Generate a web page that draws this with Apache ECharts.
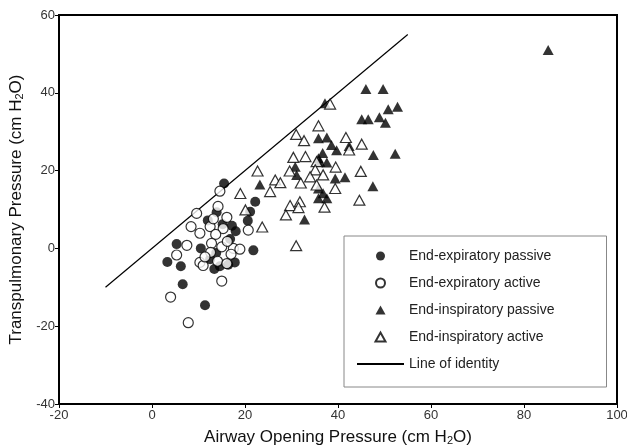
<!DOCTYPE html>
<html>
<head>
<meta charset="utf-8">
<title>Transpulmonary vs Airway Opening Pressure</title>
<script src="https://cdn.jsdelivr.net/npm/echarts@6/dist/echarts.min.js"></script>
<style>
  html, body { margin: 0; padding: 0; background: #fff; }
  #chart { width: 627px; height: 447px; }
</style>
</head>
<body>
<div id="chart"></div>
<script>
// [airway opening pressure, transpulmonary pressure] in cm H2O
const expPassive = [
  [15.5, 16.7], [13.9, 9.3], [18.0, 4.4], [21.8, -0.5], [10.5, 0.0], [12.5, -2.8],
  [13.4, -5.3], [16.4, -4.2], [17.8, -3.6], [5.3, 1.1], [3.3, -3.5], [6.2, -4.6],
  [6.6, -9.2], [11.4, -14.6], [20.6, 7.1], [22.2, 12.0], [21.1, 9.4], [15.2, 6.2],
  [16.8, 2.4], [13.8, -1.2], [12.0, 7.2], [17.2, 5.8], [14.6, -4.6]
];
const expActive = [
  [14.6, 14.7], [9.6, 9.0], [16.1, 8.0], [8.4, 5.6], [12.5, 5.6], [10.3, 3.9],
  [15.3, 5.1], [13.7, 3.6], [12.8, 1.3], [15.0, 0.4], [17.5, 0.0], [18.9, -0.2],
  [7.5, 0.8], [5.3, -1.7], [10.3, -3.6], [11.0, -4.4], [14.1, -3.3], [16.1, -3.9],
  [15.0, -8.4], [4.0, -12.5], [7.8, -19.1], [20.7, 4.7], [12.6, -1.0], [11.4, -2.2],
  [16.2, 1.8], [14.2, 10.8], [13.2, 7.6], [17.0, -1.5]
];
const inspPassive = [
  [46.0, 41.0], [49.7, 41.0], [37.2, 37.3], [50.8, 35.8], [52.8, 36.4], [45.1, 33.2],
  [46.5, 33.2], [48.9, 33.7], [50.2, 32.3], [35.8, 28.3], [37.6, 28.5], [38.6, 26.6],
  [39.7, 25.2], [42.4, 26.3], [47.6, 24.0], [52.3, 24.3], [36.7, 24.5], [35.8, 23.2],
  [36.1, 22.3], [37.6, 22.1], [30.8, 21.0], [31.1, 18.9], [39.4, 18.0], [41.5, 18.3],
  [23.2, 16.4], [35.8, 15.4], [36.8, 14.2], [35.8, 12.9], [37.6, 12.9], [47.5, 16.0],
  [32.8, 7.4], [85.2, 51.0]
];
const inspActive = [
  [38.3, 37.1], [35.8, 31.5], [31.0, 29.3], [32.7, 27.7], [41.7, 28.5], [45.1, 26.8],
  [42.4, 25.3], [30.4, 23.4], [33.0, 23.6], [35.4, 22.3], [39.5, 20.9], [22.7, 19.9],
  [29.6, 19.9], [35.1, 20.2], [36.8, 18.9], [44.9, 19.8], [26.5, 17.6], [27.6, 16.9],
  [32.0, 16.8], [34.0, 18.4], [35.4, 16.3], [25.4, 14.6], [39.4, 15.4], [19.0, 14.1],
  [29.7, 11.0], [31.8, 12.0], [31.5, 10.5], [28.8, 8.6], [37.1, 10.6], [44.6, 12.4],
  [20.1, 9.9], [23.7, 5.5], [31.0, 0.7]
];
const identityLine = [[-10, -10], [55, 55]];

const seriesNames = [
  'End-expiratory passive',
  'End-expiratory active',
  'End-inspiratory passive',
  'End-inspiratory active',
  'Line of identity'
];

const chart = echarts.init(document.getElementById('chart'));

const filled = { color: '#000' };
const open = { color: '#fff', borderColor: '#000', borderWidth: 1.2 };
const axisFont = { color: '#333', fontSize: 13, fontFamily: 'Liberation Sans, Arial, sans-serif' };
const nameRich = {
  sub: { fontSize: 11, verticalAlign: 'bottom', padding: [6, 0, 0, 0], color: '#111' }
};
// built-in triangle stretches to the wide legend box, a path keeps its shape
const legendTriangle = 'path://M0,9L5,0L10,9Z';

chart.setOption({
  animation: false,
  textStyle: { fontFamily: 'Liberation Sans, Arial, sans-serif' },
  grid: {
    left: 59, right: 10, top: 15, bottom: 43,
    outerBoundsMode: 'none',
    show: true, borderColor: '#000', borderWidth: 2
  },
  legend: {
    left: 344, top: 236,
    orient: 'vertical',
    data: [
      { name: seriesNames[0] },
      { name: seriesNames[1] },
      { name: seriesNames[2], icon: legendTriangle },
      { name: seriesNames[3], icon: legendTriangle },
      { name: seriesNames[4] }
    ],
    itemWidth: 47,
    itemHeight: 9,
    itemGap: 13,
    symbolKeepAspect: true,
    padding: [13, 52, 16, 12],
    borderColor: '#888',
    borderWidth: 1,
    textStyle: { fontSize: 14, color: '#222', fontFamily: 'Liberation Sans, Arial, sans-serif' }
  },
  xAxis: {
    type: 'value',
    min: -20, max: 100, interval: 20,
    name: 'Airway Opening Pressure (cm H{sub|2}O)',
    nameLocation: 'middle',
    nameGap: 25,
    nameTextStyle: { fontSize: 17, color: '#111', rich: nameRich },
    axisLine: { show: true, onZero: false, lineStyle: { color: '#000', width: 2 } },
    axisTick: { show: true, length: 4, lineStyle: { color: '#000' } },
    axisLabel: Object.assign({ margin: 5 }, axisFont),
    splitLine: { show: false }
  },
  yAxis: {
    type: 'value',
    min: -40, max: 60, interval: 20,
    name: 'Transpulmonary Pressure (cm H{sub|2}O)',
    nameLocation: 'middle',
    nameGap: 25,
    nameTextStyle: { fontSize: 17, color: '#111', rich: nameRich },
    axisLine: { show: true, onZero: false, lineStyle: { color: '#000', width: 2 } },
    axisTick: { show: true, length: 4, lineStyle: { color: '#000' } },
    axisLabel: Object.assign({ margin: 4 }, axisFont),
    splitLine: { show: false }
  },
  series: [
    { name: seriesNames[0], type: 'scatter', symbol: 'circle', symbolSize: 10, itemStyle: filled, data: expPassive },
    { name: seriesNames[1], type: 'scatter', symbol: 'circle', symbolSize: 10, itemStyle: open, data: expActive },
    { name: seriesNames[2], type: 'scatter', symbol: 'triangle', symbolSize: [11, 10], itemStyle: filled, data: inspPassive },
    { name: seriesNames[3], type: 'scatter', symbol: 'triangle', symbolSize: [11, 10], itemStyle: open, data: inspActive },
    {
      // transparent item colour hides the legend dot, the line stays black
      name: seriesNames[4], type: 'line', symbol: 'none',
      lineStyle: { color: '#000', width: 1.2 }, itemStyle: { color: 'transparent' },
      data: identityLine, z: 1
    }
  ]
});
</script>
</body>
</html>
